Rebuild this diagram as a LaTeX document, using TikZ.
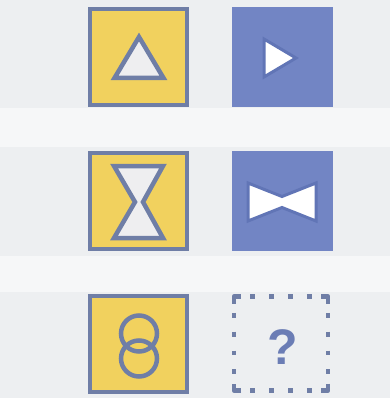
\documentclass[tikz,border=0pt]{standalone}
\usepackage{fontspec}
\usetikzlibrary{calc}
\newfontfamily\qfont{Liberation Sans}
\definecolor{bgbase}{HTML}{EDEFF1}
\definecolor{bgband}{HTML}{F6F7F8}
\definecolor{ylw}{HTML}{F1D15E}
\definecolor{edge}{HTML}{6F7EA6}
\definecolor{blu}{HTML}{7285C4}
\definecolor{bluedge}{HTML}{6175B6}
\definecolor{inner}{HTML}{EEEEF0}
\definecolor{qcol}{HTML}{6B7DB5}
\tikzset{
  ybox/.style={draw=edge, fill=ylw, line width=4pt, minimum width=97pt, minimum height=96pt, inner sep=0pt, outer sep=0pt},
  bbox/.style={fill=blu, minimum width=101pt, minimum height=100pt, inner sep=0pt, outer sep=0pt},
  qbox/.style={minimum width=94pt, minimum height=94pt, inner sep=0pt, outer sep=0pt},
  qline/.style={draw=edge, line width=4.5pt, line join=round, line cap=butt},
  yshape/.style={draw=edge, fill=inner, line width=4.5pt, line join=miter},
  bshape/.style={draw=bluedge, fill=white, line width=3pt, line join=miter},
  ring/.style={draw=edge, line width=4.5pt}
}
\begin{document}
\begin{tikzpicture}[x=1pt,y=-1pt]
\useasboundingbox (0,0) rectangle (390,398);
\fill[bgbase] (0,0) rectangle (390,398);
\fill[bgband] (0,108) rectangle (390,147);
\fill[bgband] (0,256) rectangle (390,292);
% row 1
\node[ybox] (y1) at (138.5,57) {};
\node[bbox] (b1) at (282.5,57.5) {};
\draw[yshape] (139,37) -- (163.5,78) -- (114.5,78) -- cycle;
\draw[bshape] (264,39) -- (296,58) -- (264,77) -- cycle;
% row 2
\node[ybox] (y2) at (138.5,201) {};
\node[bbox] (b2) at (282.5,201) {};
\draw[yshape] (114,166) -- (163,166) -- (143,202) -- (163,238) -- (114,238) -- (135,202) -- cycle;
\draw[bshape] (248,183) -- (282,196.5) -- (316,183) -- (316,221) -- (282,207.5) -- (248,221) -- cycle;
% row 3
\node[ybox] (y3) at (138.5,343.5) {};
\draw[ring] (139,333.5) circle (18);
\draw[ring] (139,358.5) circle (18);
\node[qbox] (q) at (281,343.5) {};
% corners
\draw[qline] ($(q.north west)+(0,7)$) -- (q.north west) -- ($(q.north west)+(7,0)$);
\draw[qline] ($(q.north east)+(-7,0)$) -- (q.north east) -- ($(q.north east)+(0,7)$);
\draw[qline] ($(q.south east)+(0,-7)$) -- (q.south east) -- ($(q.south east)+(-7,0)$);
\draw[qline] ($(q.south west)+(7,0)$) -- (q.south west) -- ($(q.south west)+(0,-7)$);
% dots
\foreach \k in {1,2,3,4} {
  \draw[qline] ($(q.north west)+(18.8*\k-2.4,0)$) -- ++(4.8,0);
  \draw[qline] ($(q.south west)+(18.8*\k-2.4,0)$) -- ++(4.8,0);
  \draw[qline] ($(q.north west)+(0,18.8*\k-2.4)$) -- ++(0,4.8);
  \draw[qline] ($(q.north east)+(0,18.8*\k-2.4)$) -- ++(0,4.8);
}
\node[anchor=base, inner sep=0pt, text=qcol, font=\qfont\bfseries\fontsize{50}{50}\selectfont] (qm) at (282.5,364) {?};
\end{tikzpicture}
\end{document}
